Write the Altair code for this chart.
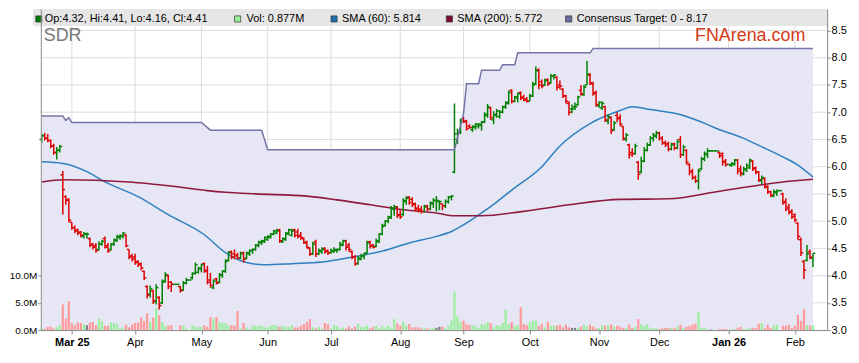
import altair as alt
import pandas as pd
import numpy as np

# ---------------- data ----------------
month_idx = [10, 31, 53, 75, 96, 119, 140, 162, 185, 205, 228, 250]
month_lbl = ['Mar 25', 'Apr', 'May', 'Jun', 'Jul', 'Aug', 'Sep', 'Oct', 'Nov', 'Dec', 'Jan 26', 'Feb']

# daily bars (open, high, low, close), one slot per weekday
ohlc = [
    (6.50, 6.60, 6.44, 6.57), (6.57, 6.62, 6.48, 6.52), (6.52, 6.60, 6.45, 6.48), (6.48, 6.50, 6.34, 6.38),
    (6.38, 6.42, 6.22, 6.26), (6.26, 6.36, 6.13, 6.30), (6.30, 6.40, 6.26, 6.37), (5.85, 5.92, 5.12, 5.58),
    (5.45, 5.47, 5.30, 5.38), (5.40, 5.42, 4.98, 5.02),
    # 10
    (4.98, 4.98, 4.84, 4.88), (4.88, 4.92, 4.78, 4.82), (4.84, 4.86, 4.74, 4.78), (4.80, 4.82, 4.70, 4.74),
    (4.72, 4.80, 4.68, 4.77), (4.76, 4.79, 4.68, 4.76), (4.68, 4.70, 4.52, 4.56), (4.58, 4.60, 4.48, 4.52),
    (4.55, 4.60, 4.42, 4.46), (4.48, 4.63, 4.46, 4.58),
    # 20
    (4.58, 4.66, 4.55, 4.63), (4.68, 4.72, 4.50, 4.52), (4.55, 4.60, 4.42, 4.45), (4.48, 4.60, 4.46, 4.57),
    (4.58, 4.68, 4.55, 4.66), (4.64, 4.75, 4.62, 4.72), (4.70, 4.76, 4.66, 4.73), (4.72, 4.80, 4.68, 4.78),
    (4.74, 4.76, 4.52, 4.55), (4.48, 4.48, 4.30, 4.34),
    # 30
    (4.36, 4.40, 4.26, 4.30), (4.34, 4.40, 4.20, 4.24), (4.26, 4.28, 4.16, 4.20), (4.22, 4.24, 4.10, 4.14),
    (4.08, 4.09, 3.92, 3.96), (3.80, 3.82, 3.58, 3.64), (3.66, 3.82, 3.60, 3.76), (3.72, 3.74, 3.48, 3.54),
    (3.52, 3.84, 3.47, 3.78), (3.60, 3.62, 3.38, 3.45),
    # 40
    (3.50, 3.93, 3.48, 3.88), (3.90, 4.06, 3.87, 4.02), (4.00, 4.02, 3.75, 3.80), (3.88, 3.90, 3.70, 3.84),
    (3.84, 3.84, 3.84, 3.84), (3.84, 3.84, 3.84, 3.84), (3.80, 3.81, 3.69, 3.72), (3.74, 3.90, 3.72, 3.86),
    (3.86, 3.96, 3.84, 3.92), (3.92, 3.92, 3.92, 3.92),
    # 50
    (3.96, 4.06, 3.93, 4.04), (4.04, 4.24, 4.02, 4.20), (4.06, 4.16, 4.04, 4.14), (4.12, 4.22, 4.06, 4.20),
    (4.22, 4.24, 4.05, 4.08), (4.10, 4.18, 3.84, 3.88), (3.92, 4.05, 3.78, 3.82), (3.78, 3.93, 3.75, 3.90),
    (3.94, 3.96, 3.84, 3.86), (3.88, 4.05, 3.86, 4.02),
    # 60
    (4.00, 4.10, 3.96, 4.08), (4.08, 4.30, 4.05, 4.26), (4.28, 4.45, 4.26, 4.42), (4.44, 4.46, 4.30, 4.34),
    (4.40, 4.48, 4.30, 4.36), (4.38, 4.42, 4.30, 4.32), (4.32, 4.44, 4.30, 4.40), (4.42, 4.44, 4.24, 4.30),
    (4.32, 4.44, 4.30, 4.42), (4.40, 4.48, 4.36, 4.46),
    # 70
    (4.46, 4.50, 4.40, 4.48), (4.48, 4.58, 4.46, 4.56), (4.55, 4.64, 4.52, 4.62), (4.60, 4.66, 4.56, 4.64),
    (4.62, 4.72, 4.60, 4.70), (4.66, 4.74, 4.64, 4.72), (4.70, 4.78, 4.68, 4.76), (4.76, 4.84, 4.74, 4.82),
    (4.78, 4.86, 4.76, 4.82), (4.84, 4.86, 4.60, 4.64),
    # 80
    (4.62, 4.70, 4.60, 4.68), (4.66, 4.80, 4.64, 4.78), (4.76, 4.86, 4.74, 4.84), (4.74, 4.86, 4.72, 4.82),
    (4.84, 4.86, 4.70, 4.74), (4.80, 4.86, 4.68, 4.72), (4.74, 4.80, 4.66, 4.70), (4.68, 4.70, 4.58, 4.60),
    (4.62, 4.64, 4.50, 4.52), (4.50, 4.52, 4.36, 4.40),
    # 90
    (4.40, 4.62, 4.38, 4.58), (4.62, 4.66, 4.34, 4.40), (4.40, 4.50, 4.38, 4.46), (4.44, 4.52, 4.40, 4.48),
    (4.50, 4.52, 4.40, 4.44), (4.46, 4.48, 4.38, 4.42), (4.42, 4.50, 4.40, 4.46), (4.44, 4.52, 4.42, 4.48),
    (4.46, 4.50, 4.42, 4.48), (4.48, 4.62, 4.46, 4.58),
    # 100
    (4.56, 4.66, 4.54, 4.64), (4.64, 4.66, 4.46, 4.52), (4.56, 4.60, 4.44, 4.48), (4.44, 4.46, 4.30, 4.34),
    (4.34, 4.38, 4.18, 4.22), (4.22, 4.36, 4.20, 4.32), (4.30, 4.40, 4.28, 4.36), (4.36, 4.42, 4.30, 4.40),
    (4.42, 4.64, 4.40, 4.60), (4.62, 4.64, 4.50, 4.54),
    # 110
    (4.56, 4.58, 4.50, 4.52), (4.54, 4.68, 4.52, 4.64), (4.62, 4.78, 4.60, 4.76), (4.76, 4.95, 4.74, 4.90),
    (4.92, 5.02, 4.90, 5.00), (5.00, 5.10, 4.96, 5.08), (5.06, 5.28, 5.04, 5.24), (5.22, 5.30, 5.10, 5.26),
    (5.26, 5.28, 5.06, 5.10), (5.12, 5.20, 5.04, 5.08),
    # 120
    (5.12, 5.42, 5.10, 5.38), (5.36, 5.46, 5.30, 5.42), (5.44, 5.46, 5.30, 5.34), (5.40, 5.44, 5.26, 5.30),
    (5.32, 5.34, 5.18, 5.22), (5.24, 5.30, 5.16, 5.20), (5.22, 5.28, 5.14, 5.18), (5.18, 5.30, 5.16, 5.26),
    (5.28, 5.30, 5.18, 5.22), (5.22, 5.36, 5.20, 5.34),
    # 130
    (5.32, 5.42, 5.24, 5.38), (5.38, 5.46, 5.18, 5.38), (5.36, 5.38, 5.20, 5.36), (5.32, 5.32, 5.20, 5.28),
    (5.28, 5.40, 5.24, 5.36), (5.36, 5.46, 5.32, 5.44), (5.44, 5.48, 5.38, 5.46), (5.90, 7.16, 5.88, 6.60),
    (6.50, 6.70, 6.42, 6.64), (6.62, 6.88, 6.60, 6.84),
    # 140
    (6.88, 6.92, 6.80, 6.82), (6.84, 6.86, 6.66, 6.70), (6.74, 6.78, 6.70, 6.72), (6.68, 6.76, 6.64, 6.74),
    (6.72, 6.80, 6.68, 6.78), (6.74, 6.80, 6.70, 6.78), (6.76, 6.84, 6.66, 6.82), (6.82, 7.00, 6.80, 6.96),
    (6.94, 7.15, 6.90, 7.10), (7.08, 7.10, 6.86, 6.90),
    # 150
    (6.86, 7.02, 6.78, 6.96), (6.94, 7.06, 6.90, 7.02), (6.92, 7.04, 6.88, 7.00), (7.00, 7.12, 6.98, 7.10),
    (7.10, 7.20, 7.06, 7.18), (7.16, 7.40, 7.14, 7.36), (7.40, 7.42, 7.16, 7.20), (7.20, 7.30, 7.18, 7.28),
    (7.26, 7.36, 7.18, 7.34), (7.36, 7.38, 7.22, 7.26),
    # 160
    (7.28, 7.32, 7.20, 7.22), (7.24, 7.28, 7.18, 7.20), (7.20, 7.34, 7.20, 7.30), (7.30, 7.56, 7.28, 7.50),
    (7.52, 7.84, 7.50, 7.76), (7.78, 7.80, 7.42, 7.50), (7.56, 7.60, 7.44, 7.48), (7.50, 7.62, 7.48, 7.58),
    (7.60, 7.62, 7.48, 7.52), (7.54, 7.70, 7.52, 7.66),
    # 170
    (7.66, 7.70, 7.60, 7.68), (7.64, 7.66, 7.40, 7.46), (7.50, 7.58, 7.42, 7.48), (7.42, 7.44, 7.26, 7.30),
    (7.30, 7.32, 7.16, 7.20), (7.16, 7.20, 6.94, 7.00), (7.06, 7.14, 6.98, 7.06), (7.10, 7.18, 7.04, 7.10),
    (7.14, 7.30, 7.12, 7.28), (7.40, 7.50, 7.30, 7.34),
    # 180
    (7.32, 7.50, 7.30, 7.46), (7.50, 7.94, 7.50, 7.70), (7.68, 7.72, 7.50, 7.54), (7.52, 7.56, 7.30, 7.34),
    (7.36, 7.40, 7.10, 7.14), (7.12, 7.20, 7.08, 7.18), (7.08, 7.20, 7.04, 7.16), (7.10, 7.12, 6.82, 6.86),
    (6.84, 6.96, 6.78, 6.92), (6.90, 6.92, 6.60, 6.66),
    # 190
    (6.68, 6.84, 6.66, 6.80), (6.94, 7.00, 6.82, 6.88), (6.90, 6.96, 6.74, 6.78), (6.74, 6.74, 6.48, 6.52),
    (6.50, 6.62, 6.46, 6.58), (6.40, 6.42, 6.15, 6.22), (6.26, 6.34, 6.18, 6.24), (6.24, 6.42, 6.22, 6.38),
    (6.08, 6.10, 5.76, 5.86), (5.90, 6.18, 5.88, 6.10),
    # 200
    (6.10, 6.36, 6.08, 6.30), (6.30, 6.44, 6.28, 6.40), (6.40, 6.56, 6.38, 6.52), (6.52, 6.62, 6.46, 6.58),
    (6.56, 6.66, 6.52, 6.62), (6.62, 6.64, 6.48, 6.52), (6.52, 6.56, 6.40, 6.44), (6.44, 6.48, 6.36, 6.40),
    (6.42, 6.46, 6.28, 6.32), (6.32, 6.44, 6.30, 6.40),
    # 210
    (6.42, 6.44, 6.30, 6.34), (6.34, 6.50, 6.32, 6.46), (6.50, 6.56, 6.16, 6.22), (6.22, 6.40, 6.20, 6.36),
    (6.30, 6.32, 6.04, 6.08), (6.04, 6.06, 5.84, 5.90), (5.92, 5.96, 5.76, 5.80), (5.80, 5.84, 5.70, 5.74),
    (5.74, 5.96, 5.58, 5.92), (5.96, 6.18, 5.94, 6.14),
    # 220
    (6.14, 6.28, 6.10, 6.24), (6.22, 6.34, 6.16, 6.29), (6.29, 6.30, 6.28, 6.29), (6.29, 6.29, 6.29, 6.29),
    (6.29, 6.29, 6.29, 6.29), (6.26, 6.28, 6.16, 6.20), (6.24, 6.26, 6.02, 6.08), (6.10, 6.14, 6.00, 6.04),
    (6.04, 6.04, 6.04, 6.04), (6.02, 6.08, 6.00, 6.06),
    # 230
    (6.04, 6.14, 6.02, 6.12), (6.12, 6.14, 5.86, 5.92), (5.96, 6.02, 5.82, 5.88), (5.86, 6.00, 5.84, 5.96),
    (5.94, 6.06, 5.90, 6.02), (5.98, 6.15, 5.96, 6.12), (6.10, 6.12, 5.92, 5.96), (5.98, 6.00, 5.86, 5.90),
    (5.90, 5.92, 5.72, 5.76), (5.74, 5.84, 5.68, 5.80),
    # 240
    (5.78, 5.80, 5.60, 5.64), (5.62, 5.66, 5.50, 5.54), (5.54, 5.56, 5.44, 5.48), (5.46, 5.58, 5.44, 5.54),
    (5.52, 5.58, 5.46, 5.56), (5.56, 5.56, 5.56, 5.56), (5.50, 5.52, 5.30, 5.34), (5.36, 5.42, 5.18, 5.22),
    (5.26, 5.32, 5.12, 5.16), (5.18, 5.22, 5.04, 5.08),
    # 250
    (5.12, 5.14, 4.98, 5.02), (4.96, 4.98, 4.66, 4.72), (4.66, 4.70, 4.36, 4.42), (4.26, 4.28, 3.94, 4.10),
    (4.28, 4.56, 4.26, 4.40), (4.44, 4.48, 4.30, 4.34), (4.32, 4.41, 4.16, 4.41),
]

# daily volume, millions of shares
volume_m = [
    0.3, 0.2, 0.6, 0.65, 0.3, 0.5, 0.9, 4.7, 2.1, 5.3,
    1.3, 0.9, 1.4, 1.3, 1.1, 0.9, 1.4, 1.5, 0.9, 2.1,
    1.6, 0.8, 0.8, 1.4, 1.3, 1.1, 0.3, 0.5, 1.0, 0.5,
    1.0, 1.3, 1.4, 2.3, 1.7, 3.1, 1.5, 2.3, 4.0, 2.7,
    1.5, 0.8, 0.8, 0.9, 0.0, 0.0, 0.9, 0.8, 0.3, 0.0,
    0.9, 0.6, 0.6, 0.6, 0.9, 0.6, 2.4, 2.1, 2.4, 1.5,
    1.3, 1.3, 0.8, 0.9, 0.8, 3.5, 0.3, 1.3, 0.5, 0.2,
    0.8, 0.8, 0.8, 0.8, 0.5, 0.5, 0.8, 0.9, 0.9, 0.6,
    0.8, 0.6, 0.6, 0.9, 0.5, 0.5, 0.8, 1.1, 1.5, 2.0,
    0.5, 0.3, 0.6, 0.3, 1.3, 1.1, 0.3, 0.9, 0.7, 0.3,
    0.5, 0.3, 0.7, 0.3, 0.6, 1.1, 0.6, 0.6, 0.8, 0.3,
    0.6, 0.8, 0.3, 0.8, 0.5, 0.8, 0.3, 2.0, 1.2, 0.8,
    1.5, 0.8, 1.1, 0.5, 0.5, 0.5, 0.3, 0.5, 0.3, 0.3,
    0.4, 0.4, 0.6, 0.65, 0.3, 0.8, 1.8, 7.1, 2.5, 1.5,
    1.7, 1.1, 0.9, 0.9, 0.8, 0.4, 1.1, 1.1, 1.5, 1.3,
    0.5, 0.9, 0.8, 1.3, 3.8, 1.1, 1.5, 0.8, 0.9, 4.2,
    1.1, 0.9, 1.4, 1.7, 1.8, 0.8, 1.1, 0.5, 1.5, 0.8,
    0.8, 0.8, 1.0, 0.5, 1.0, 0.5, 0.4, 0.4, 0.4, 0.65,
    1.0, 0.65, 1.0, 0.65, 0.3, 0.4, 0.9, 0.8, 0.8, 1.0,
    0.65, 0.8, 0.6, 0.4, 0.4, 1.0, 0.4, 0.6, 2.0, 1.1,
    0.8, 1.0, 0.4, 0.3, 0.3, 0.2, 0.3, 0.4, 0.4, 0.4,
    0.4, 0.65, 1.0, 0.4, 0.6, 0.8, 1.0, 1.2, 3.3, 0.4,
    0.4, 0.1, 0.1, 0.0, 0.0, 0.2, 0.2, 0.2, 0.0, 0.2,
    0.2, 0.4, 0.6, 0.2, 0.2, 0.4, 0.4, 0.4, 1.2, 1.3,
    0.4, 1.0, 0.4, 0.8, 1.0, 0.0, 0.8, 0.8, 1.0, 0.4,
    0.8, 2.8, 1.7, 3.8, 0.9, 0.8, 0.877,
]

sma60_idx = [0, 7, 15, 21, 32, 42, 54, 61, 68, 74, 83, 93, 103, 113, 122, 131, 136, 140, 146, 151,
             156, 166, 172, 182, 192, 196, 202, 213, 219, 224, 233, 238, 246, 251, 256]
sma60_val = [6.09, 6.06, 5.91, 5.72, 5.45, 5.12, 4.75, 4.42, 4.24, 4.20, 4.22, 4.25, 4.34, 4.45, 4.60,
             4.72, 4.81, 4.93, 5.15, 5.35, 5.57, 6.00, 6.38, 6.79, 7.03, 7.10, 7.05, 6.94, 6.82, 6.70,
             6.52, 6.39, 6.18, 6.03, 5.81]

sma200_idx = [0, 7, 29, 45, 55, 61, 71, 88, 98, 109, 120, 131, 137, 146, 160, 175, 192, 208, 224, 238, 246, 256]
sma200_val = [5.72, 5.76, 5.72, 5.63, 5.56, 5.53, 5.50, 5.46, 5.39, 5.30, 5.21, 5.15, 5.10, 5.10, 5.18,
              5.30, 5.40, 5.41, 5.54, 5.66, 5.72, 5.77]

target_idx = [0, 7, 8, 9, 10, 53, 56, 73, 75, 137, 140, 141, 145, 146, 152, 153, 157, 158, 182, 183, 256]
target_val = [6.93, 6.93, 6.85, 6.90, 6.81, 6.81, 6.67, 6.67, 6.31, 6.31, 6.97, 7.52, 7.52, 7.77, 7.77,
              7.87, 7.87, 8.09, 8.09, 8.17, 8.17]

price_ticks = [3.0, 3.5, 4.0, 4.5, 5.0, 5.5, 6.0, 6.5, 7.0, 7.5, 8.0, 8.5]
vol_ticks = [0, 5, 10]

legend_text = ['Op:4.32, Hi:4.41, Lo:4.16, Cl:4.41', 'Vol: 0.877M', 'SMA (60): 5.814',
               'SMA (200): 5.772', 'Consensus Target: 0 - 8.17']

# ---------------- styling / layout ----------------
PAD_L, PAD_R, PAD_B = 33, 24, 19
W, H = 791, 323
PMIN, PMAX = 3.0, 8.894
VMAX = 58.9
XMIN, XMAX = -0.3, 260.7
FONT = 'Liberation Sans'

GREEN, RED = '#008000', '#DD0000'
VGREEN, VRED, VGRAY = '#99EE99', '#FF9999', '#808080'
C_SMA60, C_SMA200 = '#2F80BF', '#8E1A3E'
C_TGT_LINE, C_TGT_FILL = '#7474A8', '#E6E6F5'
AX_COL = '#8A8A8A'
GRID_COL = '#DCDCDC'
legend_sq_colors = ['#007A00', '#99EE99', '#1F6FB0', '#7E0A2C', '#6B6BA3']
legend_sq_x = [-2, 198, 295, 411, 531]
legend_tx_x = [4, 207, 303, 419, 539]

# ---------------- tables ----------------
df = pd.DataFrame(ohlc, columns=['o', 'h', 'l', 'c'])
df['i'] = np.arange(len(df))
df['v'] = volume_m[:len(df)]
df['io'] = df['i'] - 0.75
df['ic'] = df['i'] + 0.75
df['zero'] = 0.0
df['col'] = np.where(df['c'] >= df['o'], GREEN, RED)
df['vcol'] = np.select([df['c'] > df['o'], df['c'] < df['o']], [VGREEN, VRED], VGRAY)

sma60 = pd.DataFrame({'i': sma60_idx, 'v': sma60_val})
sma200 = pd.DataFrame({'i': sma200_idx, 'v': sma200_val})
tgt = pd.DataFrame({'i': target_idx, 't': target_val})
tgt['base'] = PMIN
grid_h = pd.DataFrame({'p': price_ticks})
grid_v = pd.DataFrame({'i': month_idx})

xscale = alt.Scale(domain=[XMIN, XMAX], nice=False, zero=False)
pscale = alt.Scale(domain=[PMIN, PMAX], nice=False, zero=False)
vscale = alt.Scale(domain=[0, VMAX], nice=False, zero=False)

label_expr = ("[" + ",".join("'%s'" % s for s in month_lbl) + "][indexof(["
              + ",".join(str(v) for v in month_idx) + "], datum.value)]")
bold_test = " || ".join("datum.value == %d" % v for v, s in zip(month_idx, month_lbl) if ' ' in s)

xaxis = alt.Axis(values=month_idx, labelExpr=label_expr, title=None, grid=False, tickSize=4,
                 labelPadding=2, labelFlush=False, labelOverlap=False, zindex=1,
                 labelFontWeight={'condition': {'test': bold_test, 'value': 'bold'}, 'value': 'normal'})
paxis = alt.Axis(orient='right', values=price_ticks, format='.1f', title=None, grid=False,
                 tickSize=3, labelPadding=1, zindex=1)
vaxis = alt.Axis(orient='left', values=vol_ticks, labelExpr="format(datum.value, '.1f') + 'M'",
                 title=None, grid=False, tickSize=3, labelPadding=1, labelFontSize=10, zindex=1)


def X(field):
    return alt.X(field + ':Q', scale=xscale, axis=xaxis)


# background: gridlines and consensus-target band
g_h = alt.Chart(grid_h).mark_rule(color=GRID_COL, strokeWidth=1).encode(
    x=alt.value(0), x2=alt.value(W), y=alt.Y('p:Q', scale=pscale, axis=None))
g_v = alt.Chart(grid_v).mark_rule(color=GRID_COL, strokeWidth=1).encode(
    x=X('i'), y=alt.value(0), y2=alt.value(H))
band = alt.Chart(tgt).mark_area(color=C_TGT_FILL, opacity=1).encode(
    x=X('i'), y=alt.Y('t:Q', scale=pscale, axis=None), y2='base:Q')
bg = alt.layer(g_h, g_v, band)

# volume
vol = alt.Chart(df).mark_rule(strokeWidth=2.2).encode(
    x=X('i'), y=alt.Y('v:Q', scale=vscale, axis=vaxis), y2='zero:Q',
    color=alt.Color('vcol:N', scale=None))

# price layers
PY = lambda f: alt.Y(f + ':Q', scale=pscale, axis=paxis)
l_sma60 = alt.Chart(sma60).mark_line(color=C_SMA60, strokeWidth=1.5, interpolate='monotone').encode(
    x=X('i'), y=PY('v'))
l_sma200 = alt.Chart(sma200).mark_line(color=C_SMA200, strokeWidth=1.6, interpolate='monotone').encode(
    x=X('i'), y=PY('v'))
hl = alt.Chart(df).mark_rule(strokeWidth=1.5).encode(
    x=X('i'), y=PY('l'), y2='h:Q', color=alt.Color('col:N', scale=None))
op = alt.Chart(df).mark_rule(strokeWidth=1.5).encode(
    x=X('io'), x2='i:Q', y=PY('o'), color=alt.Color('col:N', scale=None))
cl = alt.Chart(df).mark_rule(strokeWidth=1.5).encode(
    x=X('i'), x2='ic:Q', y=PY('c'), color=alt.Color('col:N', scale=None))
t_line = alt.Chart(tgt).mark_line(color=C_TGT_LINE, strokeWidth=1.5).encode(
    x=X('i'), y=PY('t'))
fg = alt.layer(l_sma60, l_sma200, hl, op, cl, t_line)

# decorations: legend strip, ticker and site name
one = pd.DataFrame({'a': [0]})
deco_layers = [
    alt.Chart(one).mark_rect(color='#E6E6E6').encode(
        x=alt.value(-8), x2=alt.value(W), y=alt.value(0), y2=alt.value(17))
]
for sx, tx, colr, txt in zip(legend_sq_x, legend_tx_x, legend_sq_colors, legend_text):
    deco_layers.append(alt.Chart(one).mark_square(size=38, color=colr, opacity=1, stroke='#333333',
                                                  strokeWidth=0.7).encode(x=alt.value(sx), y=alt.value(10)))
    deco_layers.append(alt.Chart(one).mark_text(text=txt, align='left', baseline='middle', font=FONT,
                                                fontSize=11, color='#000000').encode(
        x=alt.value(tx), y=alt.value(10)))
deco_layers.append(alt.Chart(one).mark_text(text='SDR', align='left', baseline='middle', font=FONT,
                                            fontSize=18, color='#777777').encode(
    x=alt.value(3), y=alt.value(27)))
deco_layers.append(alt.Chart(one).mark_text(text='FNArena.com', align='right', baseline='middle', font=FONT,
                                            fontSize=18, color='#D33A16').encode(
    x=alt.value(769), y=alt.value(27)))
deco = alt.layer(*deco_layers)

chart = alt.layer(bg, vol, fg, deco).resolve_scale(y='independent').properties(
    width=W, height=H,
    autosize=alt.AutoSizeParams(type='none'),
    padding={'left': PAD_L, 'top': 0, 'right': PAD_R, 'bottom': PAD_B},
    background='white',
).configure_view(strokeWidth=0).configure_axis(
    domainColor=AX_COL, tickColor=AX_COL, labelColor='#000000', labelFont=FONT, labelFontSize=11,
    domainWidth=1, tickWidth=1,
)

chart.save('out.html', embed_options={'renderer': 'svg', 'actions': False})
